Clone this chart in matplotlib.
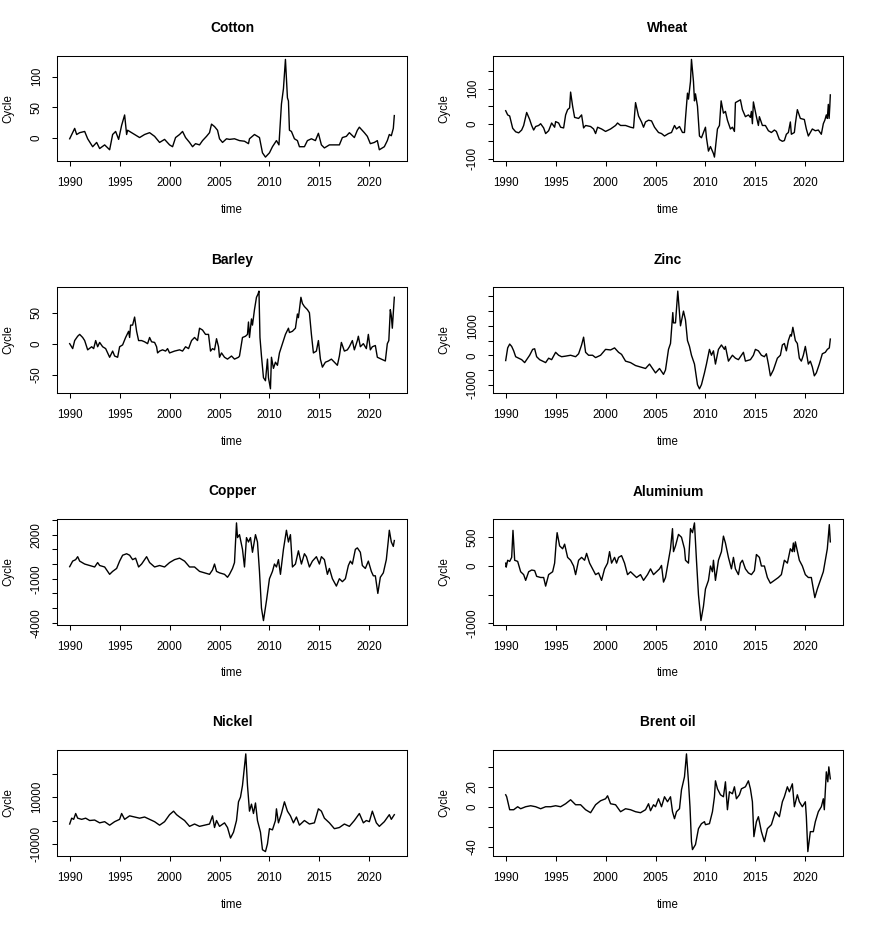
import matplotlib
matplotlib.use("Agg")
import matplotlib.pyplot as plt

plt.rcParams['font.family'] = ['Liberation Sans', 'DejaVu Sans']

years = [1990, 1995, 2000, 2005, 2010, 2015, 2020]

cotton = [(1990.0, -2), (1990.5, 15), (1990.7, 5), (1991.0, 8), (1991.5, 10), (1991.8, -2),
          (1992.3, -15), (1992.7, -8), (1993.0, -18), (1993.5, -12), (1994.0, -20), (1994.3, 5),
          (1994.6, 10), (1994.9, -3), (1995.2, 20), (1995.5, 37), (1995.7, 5), (1995.8, 12),
          (1996.5, 5), (1997.0, 0), (1997.5, 5), (1998.0, 8), (1998.5, 2), (1999.0, -8),
          (1999.5, -3), (2000.0, -12), (2000.3, -15), (2000.6, 0), (2001.0, 5), (2001.3, 10),
          (2001.6, 0), (2002.0, -8), (2002.3, -15), (2002.6, -10), (2003.0, -12), (2003.3, -5),
          (2003.7, 2), (2004.0, 8), (2004.2, 22), (2004.5, 18), (2004.8, 12), (2005.0, -2),
          (2005.3, -8), (2005.7, -2), (2006.0, -3), (2006.5, -2), (2007.0, -5), (2007.5, -6),
          (2007.9, -10), (2008.0, -2), (2008.5, 5), (2009.0, 0), (2009.3, -25), (2009.6, -32),
          (2010.0, -25), (2010.3, -15), (2010.7, -5), (2010.95, -12), (2011.2, 55), (2011.4, 80),
          (2011.6, 128), (2011.8, 65), (2011.9, 60), (2012.0, 12), (2012.2, 10), (2012.5, -2),
          (2012.8, -5), (2013.0, -15), (2013.5, -15), (2013.8, -5), (2014.2, -2), (2014.6, -5),
          (2014.9, 7), (2015.2, -12), (2015.5, -17), (2016.0, -12), (2016.5, -12), (2017.0, -12),
          (2017.3, 0), (2017.7, 2), (2018.0, 8), (2018.5, 0), (2018.8, 12), (2019.0, 17),
          (2019.5, 8), (2019.8, 2), (2020.1, -10), (2020.5, -8), (2020.8, -5), (2021.0, -20),
          (2021.5, -15), (2021.8, -5), (2022.0, 5), (2022.2, 3), (2022.4, 15), (2022.5, 36)]

wheat = [(1990.0, 37), (1990.2, 25), (1990.4, 22), (1990.7, -13), (1991.0, -23), (1991.3, -26),
         (1991.6, -18), (1991.8, -5), (1992.1, 32), (1992.4, 12), (1992.6, -5), (1992.8, -18),
         (1993.0, -8), (1993.3, -5), (1993.5, 0), (1993.8, -12), (1994.0, -28), (1994.3, -20),
         (1994.6, 2), (1994.9, -10), (1995.0, 6), (1995.3, 2), (1995.5, -10), (1995.8, -12),
         (1996.0, 25), (1996.2, 40), (1996.4, 45), (1996.5, 90), (1996.7, 50), (1996.9, 18),
         (1997.3, 15), (1997.6, 25), (1997.8, -12), (1998.0, -5), (1998.5, -8), (1998.8, -15),
         (1999.0, -28), (1999.2, -10), (1999.6, -15), (2000.0, -22), (2000.5, -15), (2001.0, -5),
         (2001.2, 2), (2001.5, -5), (2002.0, -5), (2002.5, -10), (2002.8, -12), (2003.0, 60),
         (2003.3, 22), (2003.6, 5), (2003.8, -10), (2004.0, 5), (2004.3, 10), (2004.6, 8),
         (2004.9, -10), (2005.3, -25), (2005.6, -28), (2005.9, -35), (2006.3, -28), (2006.6, -25),
         (2006.9, -5), (2007.1, -15), (2007.4, -8), (2007.7, -25), (2007.9, -25), (2008.0, 15),
         (2008.2, 87), (2008.3, 70), (2008.5, 120), (2008.6, 183), (2008.8, 120), (2008.9, 65),
         (2009.0, 85), (2009.2, 50), (2009.4, -35), (2009.6, -40), (2009.8, -25), (2010.0, -10),
         (2010.1, -40), (2010.3, -78), (2010.5, -65), (2010.8, -85), (2010.9, -95), (2011.2, -15),
         (2011.4, -5), (2011.57, 65), (2011.8, 30), (2012.0, 35), (2012.2, 10), (2012.5, -15),
         (2012.7, -10), (2012.9, -22), (2013.0, 60), (2013.3, 65), (2013.5, 68), (2013.7, 40),
         (2014.0, 20), (2014.3, 25), (2014.5, 18), (2014.6, 35), (2014.7, 0), (2014.8, 62),
         (2015.1, 20), (2015.3, -5), (2015.4, 20), (2015.7, -5), (2016.0, -5), (2016.3, -20),
         (2016.6, -25), (2016.9, -18), (2017.1, -22), (2017.4, -45), (2017.7, -50), (2017.9, -48),
         (2018.1, -30), (2018.3, -25), (2018.5, 5), (2018.6, -30), (2018.9, -25), (2019.0, 0),
         (2019.1, 20), (2019.2, 40), (2019.5, 15), (2019.9, 12), (2020.1, -15), (2020.3, -35),
         (2020.7, -15), (2021.0, -20), (2021.3, -18), (2021.6, -30), (2021.8, 0), (2021.95, 10),
         (2022.1, 25), (2022.2, 15), (2022.3, 55), (2022.38, 15), (2022.45, 50), (2022.5, 82)]

barley = [(1990.0, 0), (1990.3, -8), (1990.5, 5), (1990.8, 12), (1991.0, 15), (1991.3, 10),
          (1991.5, 5), (1991.8, -10), (1992.2, -5), (1992.4, -8), (1992.6, 5), (1992.8, -5),
          (1993.0, 2), (1993.3, -5), (1993.6, -8), (1994.0, -22), (1994.3, -12), (1994.5, -20),
          (1994.8, -22), (1995.0, -5), (1995.3, -2), (1995.6, 10), (1995.9, 20), (1996.0, 10),
          (1996.1, 30), (1996.3, 30), (1996.5, 43), (1996.7, 20), (1996.9, 5), (1997.2, 5),
          (1997.5, 3), (1997.8, 0), (1998.0, 10), (1998.2, 3), (1998.5, 2), (1998.7, -5),
          (1998.8, -15), (1999.0, -12), (1999.3, -10), (1999.6, -12), (1999.8, -8), (2000.0, -15),
          (2000.5, -12), (2001.0, -10), (2001.3, -12), (2001.6, -5), (2001.9, -8), (2002.2, 5),
          (2002.5, 10), (2002.8, 5), (2003.0, 25), (2003.3, 22), (2003.6, 15), (2003.9, 15),
          (2004.1, -12), (2004.3, -8), (2004.5, -10), (2004.7, 8), (2004.9, -5), (2005.0, -22),
          (2005.2, -15), (2005.5, -22), (2005.8, -25), (2006.2, -20), (2006.5, -25), (2006.9, -22),
          (2007.0, -20), (2007.3, 10), (2007.6, 12), (2007.8, 15), (2007.9, 35), (2008.0, 10),
          (2008.2, 40), (2008.3, 30), (2008.5, 55), (2008.7, 75), (2008.85, 80), (2008.95, 85),
          (2009.05, 10), (2009.2, -20), (2009.4, -55), (2009.6, -60), (2009.8, -25), (2009.9, -55),
          (2010.1, -73), (2010.2, -22), (2010.4, -40), (2010.6, -30), (2010.8, -35), (2011.0, -15),
          (2011.3, 0), (2011.6, 15), (2011.9, 25), (2012.0, 18), (2012.3, 20), (2012.6, 25),
          (2012.8, 48), (2012.9, 42), (2013.15, 75), (2013.3, 65), (2013.5, 60), (2013.8, 55),
          (2014.0, 50), (2014.2, 15), (2014.4, -15), (2014.7, -12), (2014.9, 5), (2015.1, -25),
          (2015.3, -38), (2015.6, -30), (2015.9, -28), (2016.2, -25), (2016.5, -30), (2016.8, -35),
          (2017.0, -20), (2017.2, 2), (2017.5, -12), (2017.8, -10), (2018.0, -5), (2018.3, 5),
          (2018.5, -10), (2018.8, 5), (2018.9, 12), (2019.1, -5), (2019.4, 0), (2019.7, -8),
          (2019.9, 15), (2020.1, -10), (2020.3, -5), (2020.6, -3), (2020.8, -22), (2021.2, -25),
          (2021.6, -28), (2021.8, 0), (2021.95, 5), (2022.1, 55), (2022.2, 45), (2022.3, 25),
          (2022.5, 75)]

zinc = [(1990.0, -180), (1990.2, 250), (1990.4, 380), (1990.6, 300), (1990.8, 150), (1991.0, -50),
        (1991.3, -100), (1991.6, -150), (1991.9, -250), (1992.2, -100), (1992.4, 0), (1992.7, 200),
        (1992.9, 220), (1993.1, -50), (1993.4, -150), (1993.7, -200), (1994.0, -250), (1994.3, -100),
        (1994.6, -150), (1995.0, 100), (1995.3, 0), (1995.6, -50), (1996.0, -30), (1996.5, 0),
        (1997.0, -50), (1997.3, 50), (1997.6, 350), (1997.8, 614), (1998.0, 100), (1998.3, 0),
        (1998.7, 0), (1999.0, -80), (1999.5, 0), (2000.0, 200), (2000.5, 180), (2000.9, 250),
        (2001.3, 100), (2001.6, 30), (2002.0, -200), (2002.5, -250), (2003.0, -350), (2003.5, -400),
        (2004.0, -450), (2004.4, -300), (2004.8, -500), (2005.0, -600), (2005.4, -450),
        (2005.6, -550), (2005.8, -650), (2006.0, -500), (2006.3, 200), (2006.5, 400),
        (2006.73, 1450), (2006.8, 1100), (2007.0, 1100), (2007.23, 2180), (2007.5, 1000),
        (2007.8, 1500), (2008.0, 1200), (2008.2, 500), (2008.4, 300), (2008.6, 0), (2008.9, -300),
        (2009.2, -1000), (2009.4, -1140), (2009.6, -1000), (2009.9, -600), (2010.1, -300),
        (2010.4, 200), (2010.6, 0), (2010.8, 150), (2011.0, -300), (2011.3, 200), (2011.6, 350),
        (2011.9, 200), (2012.0, 300), (2012.3, -200), (2012.7, 0), (2013.0, -100), (2013.3, -150),
        (2013.6, 0), (2013.8, 100), (2014.0, -200), (2014.5, -150), (2014.8, 0), (2015.0, 200),
        (2015.3, 150), (2015.6, 0), (2015.9, -50), (2016.1, 50), (2016.3, -300), (2016.5, -700),
        (2016.8, -500), (2017.0, -300), (2017.2, -100), (2017.5, 0), (2017.7, 350), (2017.9, 400),
        (2018.1, 150), (2018.3, 500), (2018.5, 700), (2018.6, 650), (2018.75, 950), (2019.0, 500),
        (2019.2, 400), (2019.4, -100), (2019.6, -200), (2019.8, 0), (2020.0, 300), (2020.3, -300),
        (2020.5, -200), (2020.7, -400), (2020.9, -700), (2021.1, -600), (2021.4, -300),
        (2021.7, 50), (2022.0, 100), (2022.2, 200), (2022.4, 250), (2022.5, 550)]

copper = [(1990.0, -180), (1990.3, 200), (1990.6, 300), (1990.8, 500), (1991.0, 200), (1991.5, 0),
          (1992.0, -100), (1992.5, -200), (1992.8, 100), (1993.0, -100), (1993.5, -200),
          (1994.0, -700), (1994.3, -500), (1994.7, -300), (1995.0, 200), (1995.3, 600),
          (1995.7, 700), (1996.0, 600), (1996.3, 300), (1996.6, 400), (1996.9, -200), (1997.2, 0),
          (1997.5, 300), (1997.7, 500), (1998.0, 100), (1998.5, -200), (1999.0, -100),
          (1999.5, -200), (2000.0, 100), (2000.5, 300), (2001.0, 400), (2001.5, 200),
          (2002.0, -200), (2002.5, -200), (2003.0, -500), (2003.5, -600), (2004.0, -700),
          (2004.3, -400), (2004.5, 0), (2004.7, -500), (2005.0, -600), (2005.5, -700),
          (2005.8, -900), (2006.0, -700), (2006.3, -300), (2006.5, 100), (2006.7, 2800),
          (2006.8, 1800), (2007.0, 2000), (2007.3, 1000), (2007.5, -200), (2007.7, 1800),
          (2007.9, 1500), (2008.1, 1800), (2008.3, 800), (2008.4, 1200), (2008.6, 2000),
          (2008.8, 1500), (2009.0, -500), (2009.2, -3000), (2009.4, -3850), (2009.7, -2500),
          (2010.0, -1000), (2010.3, -500), (2010.5, 0), (2010.7, -200), (2010.9, 300),
          (2011.1, -700), (2011.4, 1000), (2011.7, 2300), (2011.9, 1500), (2012.1, 2000),
          (2012.3, -200), (2012.6, 0), (2012.9, 900), (2013.2, 0), (2013.5, 700), (2013.7, 500),
          (2014.0, -200), (2014.3, 200), (2014.7, 500), (2015.0, 0), (2015.2, 500), (2015.5, 300),
          (2015.8, -700), (2016.0, -300), (2016.3, -1000), (2016.7, -1500), (2017.0, -1000),
          (2017.3, -1200), (2017.6, -1000), (2017.9, -100), (2018.1, 200), (2018.3, 0),
          (2018.6, 1000), (2018.8, 1100), (2019.1, 800), (2019.3, -100), (2019.6, -300),
          (2019.9, 200), (2020.2, -500), (2020.4, -800), (2020.6, -800), (2020.85, -2000),
          (2021.1, -900), (2021.4, -600), (2021.7, 300), (2021.9, 1600), (2022.0, 2300),
          (2022.2, 1500), (2022.4, 1200), (2022.5, 1600)]

aluminium = [(1990.0, 50), (1990.05, -20), (1990.2, 100), (1990.4, 80), (1990.6, 150),
             (1990.73, 620), (1990.9, 100), (1991.2, 80), (1991.5, -100), (1991.8, -150),
             (1992.0, -250), (1992.3, -100), (1992.6, -70), (1992.9, -80), (1993.1, -180),
             (1993.5, -200), (1993.8, -200), (1994.0, -350), (1994.3, -150), (1994.7, -100),
             (1994.9, 50), (1995.05, 400), (1995.15, 580), (1995.4, 350), (1995.7, 300),
             (1995.9, 380), (1996.2, 150), (1996.5, 100), (1996.8, 0), (1997.0, -150),
             (1997.3, 100), (1997.6, 150), (1997.9, 100), (1998.1, 220), (1998.4, 50),
             (1998.7, -50), (1999.0, -150), (1999.3, -120), (1999.6, -250), (1999.9, -50),
             (2000.2, 50), (2000.4, 250), (2000.6, 50), (2000.9, 150), (2001.1, 50), (2001.3, 150),
             (2001.6, 180), (2001.9, 50), (2002.2, -150), (2002.5, -100), (2002.8, -150),
             (2003.1, -200), (2003.5, -150), (2003.8, -250), (2004.2, -150), (2004.5, -50),
             (2004.8, -150), (2005.1, -100), (2005.4, -50), (2005.6, 10), (2005.8, -280),
             (2006.0, -200), (2006.3, 100), (2006.5, 300), (2006.7, 650), (2006.8, 250),
             (2007.0, 350), (2007.3, 550), (2007.6, 500), (2007.9, 300), (2008.0, 100),
             (2008.3, 50), (2008.5, 650), (2008.7, 580), (2008.9, 750), (2009.1, 100),
             (2009.3, -500), (2009.55, -950), (2009.8, -700), (2010.0, -400), (2010.3, -250),
             (2010.5, 0), (2010.7, -100), (2010.8, 100), (2011.0, -250), (2011.3, 100),
             (2011.6, 250), (2011.8, 520), (2012.0, 400), (2012.3, 150), (2012.6, -50),
             (2012.8, 150), (2013.0, -50), (2013.3, -150), (2013.5, 50), (2013.7, 100),
             (2014.0, -50), (2014.3, -120), (2014.6, -150), (2014.9, -80), (2015.1, 200),
             (2015.4, 150), (2015.6, 0), (2015.9, 0), (2016.2, -200), (2016.5, -300),
             (2016.9, -250), (2017.3, -200), (2017.6, -150), (2017.9, 100), (2018.2, 50),
             (2018.5, 300), (2018.7, 250), (2018.8, 400), (2018.9, 250), (2019.0, 420),
             (2019.4, 100), (2019.7, 0), (2020.0, -150), (2020.3, -200), (2020.6, -200),
             (2020.8, -400), (2020.95, -550), (2021.2, -400), (2021.5, -250), (2021.8, -100),
             (2022.0, 100), (2022.2, 300), (2022.4, 720), (2022.5, 420)]

nickel = [(1990.0, -1500), (1990.2, 1000), (1990.4, 500), (1990.6, 3000), (1990.8, 1000),
          (1991.2, 500), (1991.6, 1000), (1992.0, 0), (1992.5, 200), (1993.0, -1000),
          (1993.5, -500), (1994.0, -2000), (1994.5, -500), (1995.0, 500), (1995.2, 3000),
          (1995.5, 500), (1996.0, 2000), (1996.5, 1500), (1997.0, 1000), (1997.5, 1500),
          (1998.0, 500), (1998.5, -500), (1999.0, -2000), (1999.5, -500), (2000.0, 2500),
          (2000.4, 4000), (2000.7, 2500), (2001.0, 1500), (2001.5, 0), (2002.0, -2500),
          (2002.5, -1500), (2003.0, -2500), (2003.5, -2000), (2004.0, -1500), (2004.3, 2000),
          (2004.5, -3000), (2004.7, 0), (2005.0, -2500), (2005.5, -1000), (2005.8, -3000),
          (2006.1, -7500), (2006.4, -5000), (2006.7, 0), (2006.9, 8000), (2007.1, 10000),
          (2007.3, 15000), (2007.63, 28500), (2007.8, 15000), (2008.0, 4000), (2008.2, 7000),
          (2008.4, 3000), (2008.6, 7500), (2008.8, 0), (2009.1, -5000), (2009.3, -12500),
          (2009.6, -13300), (2009.8, -10000), (2010.0, -3500), (2010.3, -4000), (2010.6, 0),
          (2010.7, 5000), (2010.9, -1000), (2011.2, 3000), (2011.5, 8000), (2011.8, 4000),
          (2012.1, 2000), (2012.4, -1000), (2012.7, 1500), (2013.0, -2000), (2013.5, 0),
          (2014.0, -1500), (2014.5, -1000), (2014.9, 5000), (2015.2, 4000), (2015.5, 1000),
          (2016.0, -1000), (2016.5, -3500), (2017.0, -3000), (2017.5, -1500), (2018.0, -2500),
          (2018.5, 0), (2019.0, 3000), (2019.4, -1000), (2019.7, 0), (2020.0, -500),
          (2020.3, 4000), (2020.7, -1000), (2021.0, -2500), (2021.5, -500), (2022.0, 2500),
          (2022.2, 500), (2022.5, 2500)]

brent = [(1990.0, 12), (1990.1, 10), (1990.4, -3), (1990.8, -3), (1991.2, 0), (1991.5, -2),
         (1992.0, 0), (1992.5, 1), (1993.0, 0), (1993.5, -2), (1994.0, 0), (1994.5, 0),
         (1995.0, 1), (1995.5, 0), (1996.0, 3), (1996.5, 7), (1997.0, 2), (1997.5, 2),
         (1998.0, -3), (1998.5, -6), (1999.0, 2), (1999.5, 6), (2000.0, 8), (2000.2, 11),
         (2000.5, 3), (2001.0, 2), (2001.5, -5), (2002.0, -2), (2002.5, -3), (2003.0, -5),
         (2003.5, -6), (2004.0, -3), (2004.3, 3), (2004.5, -4), (2004.8, 2), (2005.0, 0),
         (2005.3, 8), (2005.6, 0), (2005.9, 10), (2006.2, 5), (2006.5, 10), (2006.7, -5),
         (2006.9, -12), (2007.1, -5), (2007.4, -2), (2007.6, 17), (2007.9, 30), (2008.1, 53),
         (2008.3, 25), (2008.45, 0), (2008.6, -35), (2008.7, -43), (2009.0, -38), (2009.3, -22),
         (2009.6, -17), (2009.9, -15), (2010.0, -18), (2010.4, -17), (2010.7, -5), (2010.9, 10),
         (2011.0, 26), (2011.2, 18), (2011.5, 12), (2011.8, 10), (2012.0, 25), (2012.2, -3),
         (2012.4, 15), (2012.7, 13), (2012.9, 20), (2013.1, 8), (2013.4, 12), (2013.6, 18),
         (2014.0, 20), (2014.3, 26), (2014.5, 18), (2014.7, 5), (2014.85, -30), (2015.1, -15),
         (2015.3, -10), (2015.6, -25), (2015.9, -35), (2016.2, -22), (2016.6, -18), (2017.0, -5),
         (2017.4, -10), (2017.7, 5), (2017.9, 10), (2018.2, 20), (2018.4, 15), (2018.7, 23),
         (2018.9, 0), (2019.2, 12), (2019.4, 5), (2019.7, 0), (2020.0, 5), (2020.1, -10),
         (2020.25, -45), (2020.5, -25), (2020.8, -25), (2021.0, -15), (2021.3, -5), (2021.6, 0),
         (2021.8, 8), (2021.9, -3), (2022.1, 35), (2022.25, 25), (2022.35, 40), (2022.5, 28)]

panels = [
    ("Cotton", cotton, [0, 50, 100], ["0", "50", "100"]),
    ("Wheat", wheat, [-100, -50, 0, 50, 100, 150], ["-100", "", "0", "", "100", ""]),
    ("Barley", barley, [-50, 0, 50], ["-50", "0", "50"]),
    ("Zinc", zinc, [-1000, -500, 0, 500, 1000, 1500, 2000], ["-1000", "", "0", "", "1000", "", ""]),
    ("Copper", copper, [-4000, -3000, -2000, -1000, 0, 1000, 2000, 3000],
     ["-4000", "", "", "-1000", "", "", "2000", ""]),
    ("Aluminium", aluminium, [-1000, -500, 0, 500], ["-1000", "", "0", "500"]),
    ("Nickel", nickel, [-10000, 0, 10000, 20000], ["-10000", "", "10000", ""]),
    ("Brent oil", brent, [-40, -20, 0, 20, 40], ["-40", "", "0", "20", ""]),
]

W, H = 872, 925
fig = plt.figure(figsize=(W / 100, H / 100), dpi=100)
lefts = [56.7, 492.7]
aw = 350.6
ah = 105.5
tops = [55.5, 287.2, 519.0, 750.0]

fs = 8.3
for i, (name, data, yt, yl) in enumerate(panels):
    r, c = divmod(i, 2)
    ax = fig.add_axes([lefts[c] / W, 1 - (tops[r] + ah) / H, aw / W, ah / H])
    t = [p[0] for p in data]
    v = [p[1] for p in data]
    ax.plot(t, v, color="black", lw=1.0)
    ax.margins(x=0.04, y=0.04)
    ax.set_xticks(years)
    ax.set_xticklabels([str(y) for y in years], fontsize=fs)
    ax.set_yticks(yt)
    ax.set_yticklabels(yl, fontsize=fs, rotation=90, va="center")
    ax.tick_params(axis="x", length=5 * 0.72, width=0.75, pad=8.0)
    ax.tick_params(axis="y", length=5 * 0.72, width=0.75, pad=6.5)
    for s in ax.spines.values():
        s.set_linewidth(0.75)
    ax.set_title(name, fontsize=9.9, fontweight="bold", y=1 + 27.5 / ah, va="center", pad=0)
    ax.set_xlabel("time", fontsize=fs)
    ax.xaxis.set_label_coords(0.5, -49 / ah)
    ax.xaxis.label.set_va("center")
    ax.set_ylabel("Cycle", fontsize=fs)
    ax.yaxis.set_label_coords(-48 / aw, 0.5)
    ax.yaxis.label.set_va("center")

fig.savefig("out.png", dpi=100)
